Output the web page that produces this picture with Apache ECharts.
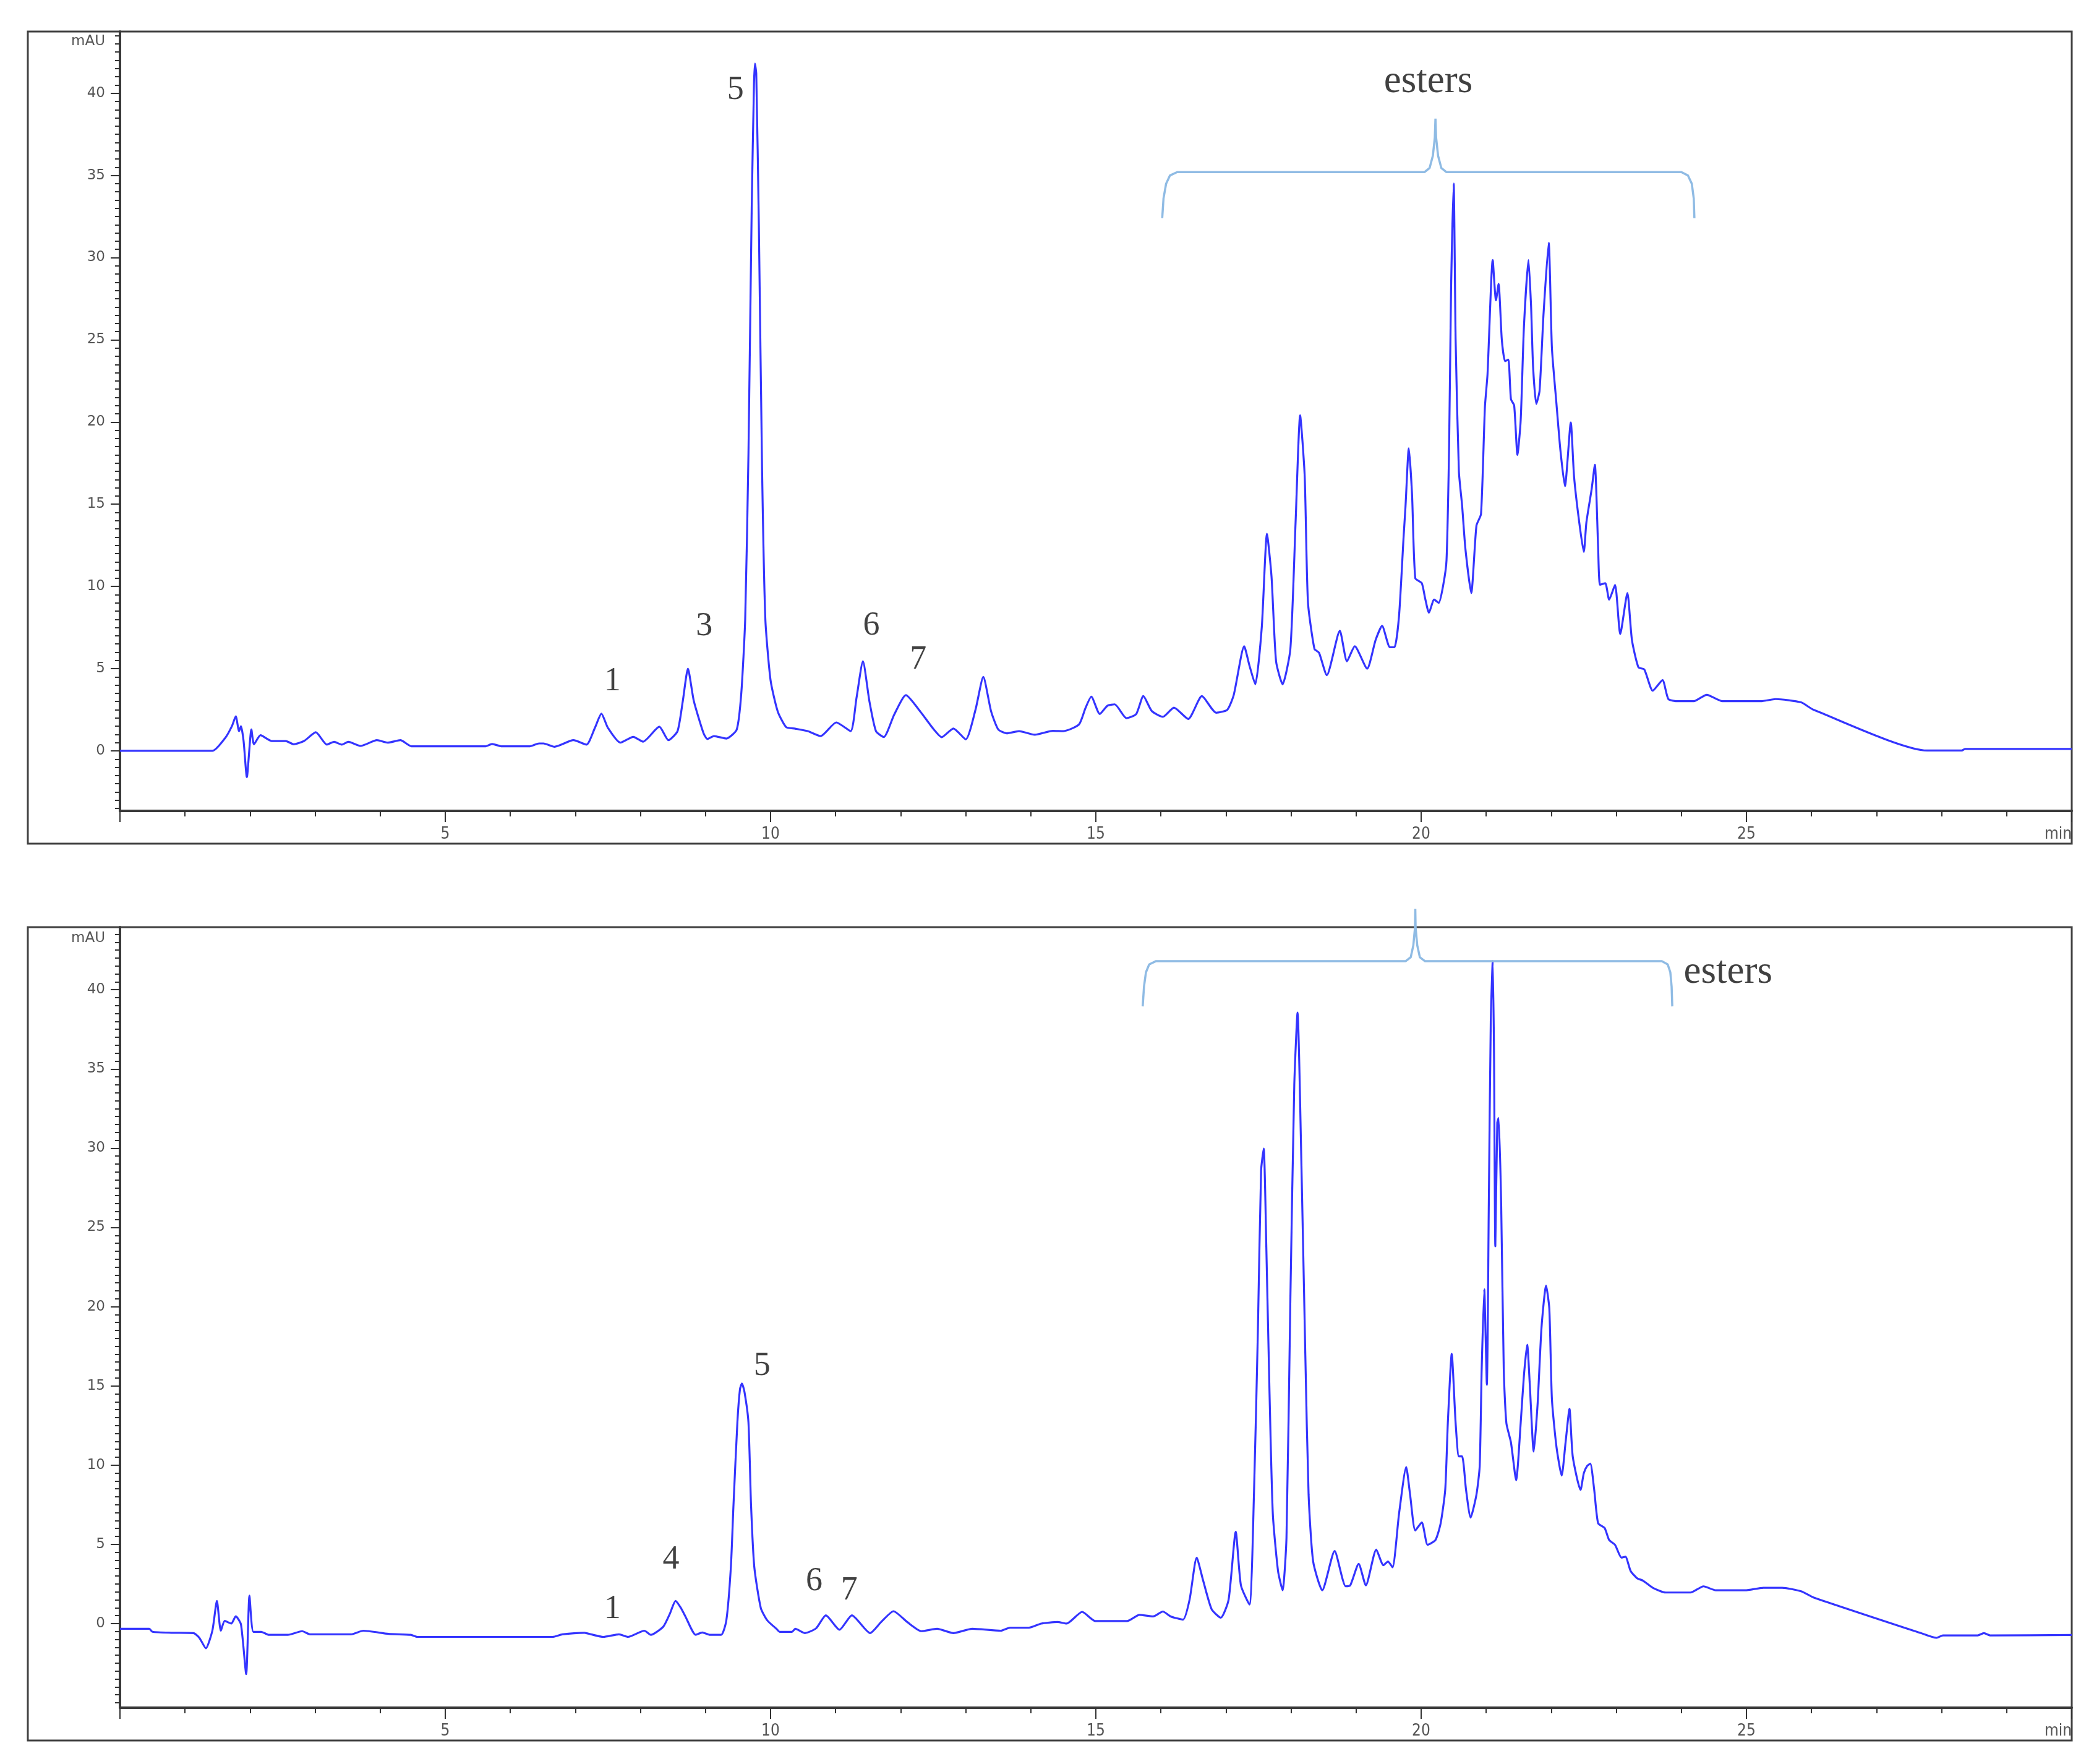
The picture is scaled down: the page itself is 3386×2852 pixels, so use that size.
<!DOCTYPE html>
<html>
<head>
<meta charset="utf-8">
<script src="https://cdn.jsdelivr.net/npm/echarts@6/dist/echarts.min.js"></script>
<style>
html,body{margin:0;padding:0;background:#fff;}
#chart{width:3386px;height:2852px;}
</style>
</head>
<body>
<div id="chart"></div>
<script>
// ---------- DATA (time in min, absorbance in mAU) ----------
const topTrace = [
[0,0],[1.42,0],[1.62,0.8],[1.72,1.5],[1.78,2.1],[1.83,1.2],[1.86,1.5],[1.9,0.6],[1.95,-1.6],[2.02,1.3],[2.06,0.4],[2.16,0.95],
[2.33,0.6],[2.55,0.6],[2.67,0.4],[2.83,0.6],[3.01,1.13],[3.18,0.38],[3.29,0.55],[3.41,0.38],[3.51,0.55],[3.70,0.3],[3.95,0.65],
[4.12,0.5],[4.31,0.65],[4.48,0.28],[5.62,0.28],[5.72,0.42],[5.86,0.28],[6.30,0.28],[6.44,0.45],[6.51,0.45],[6.68,0.25],[6.97,0.65],
[7.17,0.38],[7.30,1.4],[7.40,2.26],[7.50,1.4],[7.69,0.5],[7.89,0.85],[8.04,0.56],[8.29,1.47],[8.43,0.65],[8.57,1.2],[8.65,3.0],
[8.73,5.0],[8.82,3.04],[8.97,1.07],[9.03,0.72],[9.13,0.9],[9.32,0.75],[9.48,1.3],[9.55,3.5],[9.61,8.0],[9.66,18],[9.71,33],
[9.745,40.5],[9.76,41.8],[9.78,41.2],[9.82,32],[9.87,17],[9.92,8.0],[10.0,4.3],[10.11,2.4],[10.24,1.44],[10.38,1.35],[10.57,1.2],
[10.77,0.9],[11.01,1.73],[11.23,1.2],[11.32,3.2],[11.42,5.45],[11.52,3.0],[11.62,1.2],[11.74,0.84],[11.9,2.2],[12.08,3.39],
[12.30,2.4],[12.51,1.3],[12.63,0.83],[12.81,1.36],[13.0,0.7],[13.15,2.5],[13.27,4.5],[13.39,2.4],[13.50,1.3],[13.63,1.07],
[13.82,1.2],[14.06,0.98],[14.34,1.22],[14.50,1.2],[14.74,1.6],[14.84,2.6],[14.93,3.3],[15.06,2.24],[15.18,2.75],[15.29,2.83],
[15.47,1.99],[15.62,2.24],[15.73,3.33],[15.86,2.42],[16.03,2.07],[16.20,2.63],[16.42,1.94],[16.63,3.33],[16.85,2.32],[17.02,2.5],
[17.12,3.41],[17.28,6.36],[17.36,5.2],[17.45,4.05],[17.55,7.5],[17.63,13.2],[17.70,10.6],[17.77,5.45],[17.87,4.05],[17.99,6.2],
[18.07,13.9],[18.14,20.4],[18.21,16.7],[18.26,9.05],[18.36,6.2],[18.43,5.97],[18.55,4.6],[18.75,7.3],[18.86,5.45],[18.98,6.36],
[19.17,5.0],[19.30,6.74],[19.40,7.6],[19.52,6.3],[19.59,6.3],[19.66,8.2],[19.73,13.0],[19.76,14.9],[19.81,18.4],[19.86,15.6],
[19.91,10.5],[20.01,10.2],[20.06,9.3],[20.12,8.4],[20.20,9.2],[20.27,9.0],[20.34,10.1],[20.39,11.6],[20.43,18.6],[20.46,28.1],
[20.50,34.5],[20.53,25],[20.58,17],[20.63,14.9],[20.68,12.3],[20.77,9.6],[20.85,13.7],[20.92,14.4],[20.98,20.9],[21.02,22.9],
[21.10,29.85],[21.15,27.4],[21.19,28.4],[21.24,25.0],[21.29,23.7],[21.34,23.8],[21.38,21.4],[21.43,21.0],[21.48,18.0],[21.53,20.1],
[21.58,25.8],[21.65,29.85],[21.69,27.0],[21.72,23.4],[21.77,21.1],[21.82,21.9],[21.88,26.5],[21.96,30.9],[22.01,24.5],[22.08,21.1],
[22.14,18.3],[22.21,16.1],[22.30,19.97],[22.35,16.7],[22.43,13.9],[22.50,12.1],[22.54,13.9],[22.62,15.9],[22.67,17.4],[22.72,12.4],
[22.75,10.1],[22.83,10.2],[22.89,9.2],[22.98,10.1],[23.06,7.1],[23.17,9.6],[23.24,6.74],[23.34,5.08],[23.43,4.95],[23.56,3.66],
[23.71,4.3],[23.80,3.15],[23.95,3.02],[24.19,3.02],[24.39,3.41],[24.63,3.02],[25.22,3.02],[25.45,3.15],[25.84,2.95],[26.03,2.5],
[27.78,0.02],[28.31,0.02],[28.36,0.12],[30,0.12]
];

const bottomTrace = [
[0,-0.33],[0.45,-0.33],[0.50,-0.52],[0.79,-0.58],[1.13,-0.6],[1.22,-0.9],[1.32,-1.56],[1.42,-0.45],[1.49,1.43],[1.55,-0.45],
[1.61,0.17],[1.71,0.0],[1.78,0.46],[1.86,-0.06],[1.94,-3.19],[1.99,1.76],[2.05,-0.52],[2.17,-0.52],[2.29,-0.71],[2.58,-0.71],
[2.80,-0.48],[2.92,-0.68],[3.55,-0.68],[3.74,-0.45],[4.13,-0.65],[4.47,-0.71],[4.57,-0.84],[6.65,-0.84],[6.80,-0.68],[7.14,-0.58],
[7.24,-0.68],[7.43,-0.84],[7.67,-0.68],[7.81,-0.84],[8.06,-0.45],[8.16,-0.71],[8.35,-0.2],[8.45,0.6],[8.54,1.43],[8.62,1.0],
[8.69,0.46],[8.85,-0.71],[8.95,-0.56],[9.07,-0.71],[9.24,-0.71],[9.32,0.19],[9.39,3.57],[9.43,7.48],[9.49,12.7],[9.53,14.8],
[9.56,15.15],[9.60,14.6],[9.66,12.7],[9.70,7.48],[9.75,3.57],[9.85,0.98],[9.95,0.2],[10.09,-0.33],[10.14,-0.52],[10.33,-0.52],
[10.38,-0.33],[10.53,-0.6],[10.70,-0.3],[10.85,0.52],[11.06,-0.39],[11.25,0.52],[11.53,-0.6],[11.70,0.1],[11.89,0.78],[12.10,0.1],
[12.32,-0.48],[12.56,-0.33],[12.81,-0.6],[13.10,-0.33],[13.54,-0.45],[13.68,-0.26],[13.97,-0.26],[14.16,0.0],[14.41,0.1],[14.55,0.0],
[14.79,0.74],[14.99,0.16],[15.48,0.16],[15.67,0.55],[15.88,0.45],[16.03,0.76],[16.15,0.45],[16.34,0.25],[16.44,1.5],[16.55,4.16],
[16.65,2.7],[16.78,0.9],[16.92,0.37],[17.04,1.5],[17.15,5.79],[17.23,2.41],[17.36,1.2],[17.43,8.14],[17.49,18.38],[17.54,28.6],
[17.58,29.97],[17.62,23.8],[17.67,14.46],[17.72,6.93],[17.80,3.32],[17.87,2.1],[17.93,5.43],[17.99,20.5],[18.05,34.0],[18.10,38.56],
[18.16,28.9],[18.22,16.9],[18.27,8.14],[18.34,3.92],[18.48,2.1],[18.67,4.58],[18.84,2.35],[18.91,2.41],[19.04,3.77],[19.15,2.41],
[19.31,4.67],[19.42,3.68],[19.49,3.92],[19.56,3.55],[19.66,6.93],[19.77,9.88],[19.83,8.14],[19.91,5.88],[20.01,6.39],[20.10,4.97],
[20.22,5.27],[20.30,6.33],[20.37,8.44],[20.41,12.65],[20.47,17.02],[20.53,12.65],[20.58,10.55],[20.63,10.55],[20.69,8.44],[20.76,6.69],
[20.85,8.14],[20.90,9.94],[20.93,15.97],[20.97,21.09],[21.01,15.07],[21.04,26.5],[21.07,38],[21.10,41.8],[21.12,36],[21.14,23.8],
[21.17,31.6],[21.19,31.9],[21.23,26.5],[21.27,15.97],[21.31,12.65],[21.38,11.44],[21.46,9.05],[21.53,12.65],[21.58,15.67],[21.63,17.6],
[21.67,15.07],[21.73,10.85],[21.79,13.86],[21.85,18.68],[21.92,21.33],[21.97,19.88],[22.01,14.16],[22.08,11.15],[22.16,9.34],[22.22,11.44],
[22.28,13.55],[22.33,10.55],[22.45,8.44],[22.50,9.49],[22.55,9.94],[22.60,10.09],[22.66,8.44],[22.72,6.33],[22.82,6.03],[22.89,5.27],
[22.98,4.97],[23.08,4.16],[23.14,4.22],[23.22,3.32],[23.32,2.86],[23.41,2.71],[23.56,2.26],[23.76,1.96],[24.14,1.96],[24.34,2.35],
[24.53,2.1],[24.98,2.1],[25.26,2.26],[25.55,2.26],[25.84,2.04],[26.03,1.65],[27.68,-0.6],[27.92,-0.9],[28.02,-0.75],[28.55,-0.75],
[28.65,-0.6],[28.75,-0.75],[30,-0.72]
];

// curly brackets marking the ester region (data coordinates)
const braceTop = [
[16.02,32.4],[16.04,33.6],[16.08,34.5],[16.14,35.0],[16.25,35.2],[20.05,35.2],[20.13,35.45],[20.18,36.2],[20.21,37.3],[20.22,38.45],
[20.23,37.3],[20.26,36.2],[20.31,35.45],[20.39,35.2],[24.0,35.2],[24.1,35.0],[24.16,34.5],[24.19,33.6],[24.2,32.4]
];
const braceBottom = [
[15.72,38.95],[15.74,40.2],[15.77,41.1],[15.82,41.6],[15.92,41.8],[19.76,41.8],[19.84,42.05],[19.88,42.8],[19.905,43.9],[19.91,45.1],
[19.915,43.9],[19.94,42.8],[19.98,42.05],[20.06,41.8],[23.7,41.8],[23.79,41.6],[23.83,41.1],[23.85,40.2],[23.86,38.95]
];

// peak labels: [text, time, mAU]
const topLabels = [['1',7.57,4.22],['3',8.98,7.55],['5',9.46,40.2],['6',11.55,7.6],['7',12.27,5.54]];
const bottomLabels = [['1',7.57,0.91],['4',8.47,4.03],['5',9.87,16.25],['6',10.67,2.67],['7',11.21,2.08]];
const esterTop = ['esters',20.11,40.7];
const esterBottom = ['esters',24.03,41.1];

// axis ranges / ticks
const xTicks = [0,5,10,15,20,25,30];
const yMajor = [0,5,10,15,20,25,30,35,40];
const topY = {min:-3.65, max:43.75, unitPos:43.15};
const botY = {min:-5.31, max:43.95, unitPos:43.25};

// ---------- BUILD ----------
const minorVals = (lo, hi) => { const a=[]; for (let v=Math.ceil(lo*2)/2; v<=hi; v+=0.5) a.push(+v.toFixed(2)); return a; };
const GRIDS = [{left:194, top:51, width:3156, height:1260},{left:194, top:1499, width:3156, height:1262}];
const axisColor = '#3a3a3a';
const sansNarrow = "'DejaVu Sans Condensed', 'Liberation Sans Narrow', 'Liberation Sans', sans-serif";

function xAx(i){
  return {type:'value', gridIndex:i, min:xTicks[0], max:xTicks[xTicks.length-1], interval:5,
    axisLine:{show:true,onZero:false,lineStyle:{color:axisColor,width:4}},
    axisTick:{show:true,length:18,lineStyle:{color:'#333',width:2}},
    minorTick:{show:true,splitNumber:5,length:9,lineStyle:{color:'#333',width:2}},
    splitLine:{show:false}, minorSplitLine:{show:false},
    axisLabel:{show:true,margin:25,fontFamily:sansNarrow,fontSize:26,color:'#555',alignMaxLabel:'right',
      formatter:v=> v===0?'':(v===30?'min':String(v))}};
}
function yAxes(i, r){
  return [
    {type:'value', gridIndex:i, min:r.min, max:r.max, position:'left', offset:0,
      axisLine:{show:true,onZero:false,lineStyle:{color:axisColor,width:4}},
      axisTick:{show:true,length:15,customValues:yMajor,lineStyle:{color:'#333',width:2}},
      axisLabel:{show:true,customValues:yMajor.concat([r.unitPos]),margin:24,fontFamily:'DejaVu Sans',fontSize:23,color:'#555',
        formatter:v=> v>41?'mAU':String(v)},
      splitLine:{show:false}},
    {type:'value', gridIndex:i, min:r.min, max:r.max, position:'left', offset:0,
      axisLine:{show:false,onZero:false},
      axisTick:{show:true,length:8,customValues:minorVals(r.min,r.max),lineStyle:{color:'#333',width:2}},
      axisLabel:{show:false}, splitLine:{show:false}}
  ];
}
function labelSeries(xi, yi, labels, ester, esterPos){
  const data = labels.map(l=>({name:l[0], value:[l[1],l[2]]}));
  data.push({name:ester[0], value:[ester[1],ester[2]], label:{fontSize:63, position:esterPos, distance:0}});
  return {type:'scatter', xAxisIndex:xi, yAxisIndex:yi, symbol:'circle', symbolSize:1, itemStyle:{color:'rgba(0,0,0,0)'},
    silent:true, z:5, clip:false, data,
    label:{show:true, position:'inside', formatter:'{b}', fontFamily:'Liberation Serif', fontSize:54, color:'#111'}};
}
function traceSeries(xi, yi, d){
  return {type:'line', xAxisIndex:xi, yAxisIndex:yi, data:d, showSymbol:false, symbol:'none', smooth:0.2,
    lineStyle:{color:'#3434ff',width:3.2}, z:3};
}
function braceSeries(xi, yi, d){
  return {type:'line', xAxisIndex:xi, yAxisIndex:yi, data:d, showSymbol:false, symbol:'none', smooth:false, clip:false,
    lineStyle:{color:'#8fbbe4',width:3.5}, z:4};
}

const chart = echarts.init(document.getElementById('chart'), null, {renderer:'canvas'});
chart.setOption({
  animation:false,
  backgroundColor:'#ffffff',
  grid: GRIDS,
  xAxis:[xAx(0), xAx(1)],
  yAxis:[].concat(yAxes(0, topY), yAxes(1, botY)),
  graphic:[
    {type:'rect', z:0, shape:{x:45,y:51,width:3305,height:1313}, style:{fill:null,stroke:'#404040',lineWidth:3}},
    {type:'rect', z:0, shape:{x:45,y:1499,width:3305,height:1315}, style:{fill:null,stroke:'#404040',lineWidth:3}}
  ],
  series:[
    traceSeries(0,0,topTrace),
    traceSeries(1,2,bottomTrace),
    braceSeries(0,0,braceTop),
    braceSeries(1,2,braceBottom),
    labelSeries(0,0,topLabels,esterTop,'inside'),
    labelSeries(1,2,bottomLabels,esterBottom,'right')
  ]
});
</script>
</body>
</html>
